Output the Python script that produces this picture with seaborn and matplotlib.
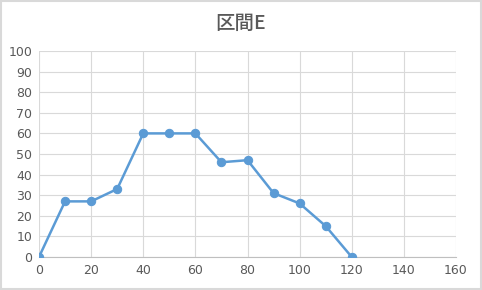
import matplotlib
matplotlib.use("Agg")
import matplotlib.pyplot as plt
import seaborn as sns
import pandas as pd

x_vals = [0, 10, 20, 30, 40, 50, 60, 70, 80, 90, 100, 110, 120]
y_vals = [0, 27, 27, 33, 60, 60, 60, 46, 47, 31, 26, 15, 0]
x_ticks = [0, 20, 40, 60, 80, 100, 120, 140, 160]
y_ticks = [0, 10, 20, 30, 40, 50, 60, 70, 80, 90, 100]
title = "区間E"

sns.set_style("white")
plt.rcParams['font.family'] = ['Noto Sans CJK JP', 'DejaVu Sans']

df = pd.DataFrame({"x": x_vals, "y": y_vals})

fig = plt.figure(figsize=(4.82, 2.90), dpi=100)
ax = fig.add_axes([39/482, 33/290, (456-39)/482, (257-51)/290])
sns.lineplot(data=df, x="x", y="y", ax=ax, color="#5B9BD5", linewidth=1.8,
             marker="o", markersize=6, markeredgecolor="#5B9BD5", zorder=3)
ax.set_xlim(0, 160)
ax.set_ylim(0, 100)
ax.set_xticks(x_ticks)
ax.set_yticks(y_ticks)
ax.grid(True, color="#D9D9D9", linewidth=0.8)
for s in ["top", "right", "left"]:
    ax.spines[s].set_visible(False)
ax.spines["bottom"].set_color("#BFBFBF")
ax.spines["bottom"].set_linewidth(0.8)
ax.tick_params(axis="both", length=0, labelsize=9, labelcolor="#595959", pad=5)
ax.set_xlabel("")
ax.set_ylabel("")
for lbl in ax.get_xticklabels() + ax.get_yticklabels():
    lbl.set_family(['DejaVu Sans'])
fig.text(0.5, 1 - 23/290, title, ha="center", va="center", fontsize=14,
         color="#595959", fontweight="medium")
fig.patches.append(plt.Rectangle((0.002, 0.003), 0.996, 0.994, transform=fig.transFigure,
                                 fill=False, edgecolor="#D9D9D9", linewidth=1.5))
fig.savefig("out.png", dpi=100)
